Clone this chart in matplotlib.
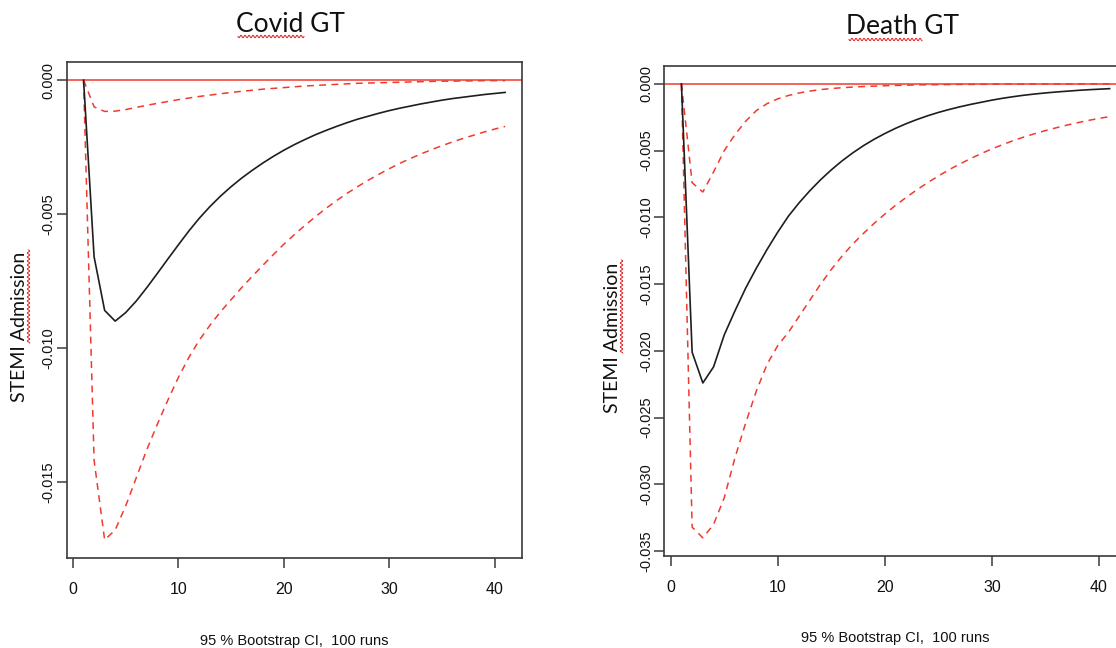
import numpy as np
import matplotlib
matplotlib.use("Agg")
import matplotlib.pyplot as plt

plt.rcParams['axes.unicode_minus'] = False

# ---------------- data ----------------
horizon = list(range(1, 42))

covid_irf = [0, -0.00660, -0.00860, -0.00900, -0.00868, -0.00825, -0.00775, -0.00722, -0.00668,
             -0.00615, -0.00563, -0.00515, -0.00472, -0.00433, -0.00398, -0.00366, -0.00337, -0.00310,
             -0.00285, -0.00262, -0.00241, -0.00222, -0.00204, -0.00188, -0.00173, -0.00159, -0.00146,
             -0.00135, -0.00124, -0.00114, -0.00105, -0.00097, -0.00089, -0.00082, -0.00075, -0.00069,
             -0.00064, -0.00059, -0.00054, -0.00050, -0.00046]
covid_lower = [0, -0.01420, -0.01717, -0.01680, -0.01590, -0.01485, -0.01380, -0.01285, -0.01195,
               -0.01110, -0.01035, -0.00970, -0.00915, -0.00865, -0.00820, -0.00775, -0.00733, -0.00692,
               -0.00652, -0.00613, -0.00577, -0.00543, -0.00510, -0.00479, -0.00450, -0.00423, -0.00398,
               -0.00374, -0.00352, -0.00331, -0.00311, -0.00293, -0.00276, -0.00260, -0.00245, -0.00231,
               -0.00218, -0.00206, -0.00194, -0.00183, -0.00173]
covid_upper = [0, -0.00100, -0.00117, -0.00116, -0.00110, -0.00102, -0.00094, -0.00087, -0.00080,
               -0.00073, -0.00067, -0.00061, -0.00056, -0.00051, -0.00046, -0.00042, -0.00038, -0.00034,
               -0.00031, -0.00028, -0.00025, -0.00022, -0.00020, -0.00018, -0.00016, -0.00014, -0.00012,
               -0.00011, -0.00010, -0.00009, -0.00008, -0.00007, -0.00006, -0.00005, -0.00004, -0.00004,
               -0.00003, -0.00003, -0.00002, -0.00002, -0.00002]

death_irf = [0, -0.02010, -0.02240, -0.02120, -0.01880, -0.01700, -0.01530, -0.01380, -0.01240,
             -0.01110, -0.00990, -0.00890, -0.00800, -0.00718, -0.00644, -0.00577, -0.00517, -0.00463,
             -0.00415, -0.00372, -0.00333, -0.00298, -0.00267, -0.00239, -0.00214, -0.00192, -0.00172,
             -0.00154, -0.00138, -0.00122, -0.00108, -0.00096, -0.00085, -0.00076, -0.00068, -0.00061,
             -0.00055, -0.00049, -0.00044, -0.00040, -0.00036]
death_lower = [0, -0.03320, -0.03400, -0.03300, -0.03100, -0.02800, -0.02540, -0.02300, -0.02100,
               -0.01960, -0.01860, -0.01740, -0.01620, -0.01500, -0.01390, -0.01290, -0.01200, -0.01120,
               -0.01045, -0.00975, -0.00910, -0.00850, -0.00793, -0.00740, -0.00690, -0.00643, -0.00600,
               -0.00560, -0.00522, -0.00487, -0.00455, -0.00425, -0.00398, -0.00373, -0.00350, -0.00329,
               -0.00309, -0.00291, -0.00274, -0.00259, -0.00245]
death_upper = [0, -0.00740, -0.00810, -0.00660, -0.00500, -0.00380, -0.00280, -0.00200, -0.00148,
               -0.00112, -0.00087, -0.00068, -0.00054, -0.00043, -0.00035, -0.00029, -0.00024, -0.00020,
               -0.00017, -0.00014, -0.00012, -0.00010, -0.00008, -0.00007, -0.00006, -0.00005, -0.00004,
               -0.00004, -0.00003, -0.00003, -0.00002, -0.00002, -0.00002, -0.00001, -0.00001, -0.00001,
               -0.00001, 0, 0, 0, 0]

panel_titles = ["Covid GT", "Death GT"]
y_label = "STEMI Admission"
x_label = "95 % Bootstrap CI,  100 runs"
x_ticks = [0, 10, 20, 30, 40]
covid_yticks = [0.0, -0.005, -0.010, -0.015]
death_yticks = [0.0, -0.005, -0.010, -0.015, -0.020, -0.025, -0.030, -0.035]

# ---------------- figure ----------------
W, H = 1116, 648
fig = plt.figure(figsize=(W / 100, H / 100), dpi=100)

def px_rect(l, t, r, b):
    return [l / W, 1 - b / H, (r - l) / W, (b - t) / H]

ax1 = fig.add_axes(px_rect(66.7, 61.7, 522, 558.3))
ax2 = fig.add_axes(px_rect(664.3, 65.7, 1126.8, 556))

RED = '#f03a2e'
tick_font = ['Liberation Sans Narrow', 'Liberation Sans', 'DejaVu Sans']
ytick_font = ['Liberation Sans', 'DejaVu Sans']
title_font = ['Lato', 'DejaVu Sans']

def draw_panel(ax, irf, lower, upper, yticks):
    ax.axhline(0, color=RED, lw=1.1, zorder=1)
    ax.plot(horizon, irf, color='#1e1e1e', lw=1.2, zorder=3)
    ax.plot(horizon, lower, color=RED, lw=1.1, ls=(0, (4.5, 3.5)), zorder=2)
    ax.plot(horizon, upper, color=RED, lw=1.1, ls=(0, (4.5, 3.5)), zorder=2)
    ymin = min(min(irf), min(lower), min(upper))
    ymax = max(max(irf), max(lower), max(upper))
    pad = 0.04 * (ymax - ymin)
    ax.set_ylim(ymin - pad, ymax + pad)
    ax.set_xlim(1 - 0.04 * 40, 41 + 0.04 * 40)
    ax.set_xticks(x_ticks)
    ax.set_xticklabels([str(t) for t in x_ticks], fontfamily=tick_font, fontsize=11.5)
    ax.set_yticks(yticks)
    ax.set_yticklabels(['%.3f' % v if v != 0 else '0.000' for v in yticks],
                       fontfamily=ytick_font, fontsize=10.5, rotation=90, va='center')
    for s in ax.spines.values():
        s.set_color('#3a3a3a')
        s.set_linewidth(1.2)
    ax.tick_params(axis='both', direction='out', length=7, width=1.1, color='#3a3a3a',
                   labelcolor='#111111')
    ax.tick_params(axis='x', pad=10)
    ax.tick_params(axis='y', pad=1)

draw_panel(ax1, covid_irf, covid_lower, covid_upper, covid_yticks)
draw_panel(ax2, death_irf, death_lower, death_upper, death_yticks)

def ftext(x, y, s, **kw):
    fig.text(x / W, 1 - y / H, s, **kw)

# titles
ftext(290, 25, panel_titles[0], ha='center', va='center', fontfamily=title_font, fontsize=19, color='#111')
ftext(902, 27, panel_titles[1], ha='center', va='center', fontfamily=title_font, fontsize=19, color='#111')
# y labels
ftext(20, 327, y_label, ha='center', va='center', rotation=90, fontfamily=title_font, fontsize=14, color='#111')
ftext(612, 338, y_label, ha='center', va='center', rotation=90, fontfamily=title_font, fontsize=14, color='#111')
# x labels
ftext(294, 641, x_label, ha='center', va='center', fontfamily=tick_font, fontsize=10.5, color='#111')
ftext(895.5, 638, x_label, ha='center', va='center', fontfamily=tick_font, fontsize=10.5, color='#111')

# spell-check style wavy underlines (decoration)
def wavy(x0, x1, y0, y1, vertical=False):
    n = 200
    t = np.linspace(0, 1, n)
    if not vertical:
        xs = x0 + (x1 - x0) * t
        ys = y0 + 1.2 * np.sin(2 * np.pi * (xs - x0) / 4.0)
    else:
        ys = y0 + (y1 - y0) * t
        xs = x0 + 1.2 * np.sin(2 * np.pi * (ys - y0) / 4.0)
    fig.add_artist(plt.Line2D(xs / W, 1 - ys / H, color='#e02020', lw=0.7,
                              transform=fig.transFigure))

wavy(238, 304, 36.5, 36.5)
wavy(849, 922, 39.5, 39.5)
wavy(28.5, 28.5, 250, 343, vertical=True)
wavy(621.5, 621.5, 260, 353, vertical=True)

fig.savefig('out.png', dpi=100)
